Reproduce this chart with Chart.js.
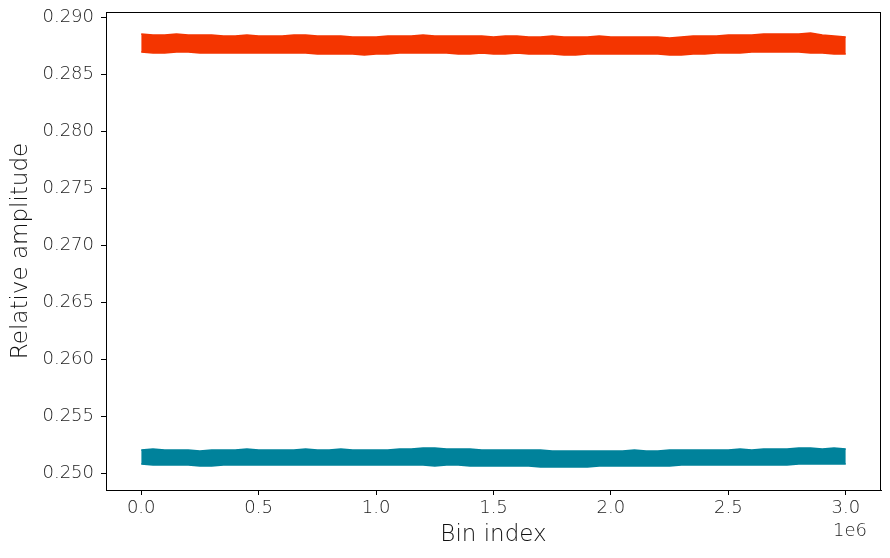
<!DOCTYPE html>
<html>
<head>
<meta charset="utf-8">
<script src="https://cdn.jsdelivr.net/npm/chart.js@4/dist/chart.umd.min.js"></script>
<style>
  html, body { margin: 0; padding: 0; background: #fff; }
  #wrap { width: 890px; height: 558px; }
</style>
</head>
<body>
<div id="wrap"><canvas id="chart" width="890" height="558"></canvas></div>
<script>
// bin index positions (read every 0.05e6)
const binIndex = [0, 50000, 100000, 150000, 200000, 250000, 300000, 350000, 400000, 450000,
  500000, 550000, 600000, 650000, 700000, 750000, 800000, 850000, 900000, 950000,
  1000000, 1050000, 1100000, 1150000, 1200000, 1250000, 1300000, 1350000, 1400000, 1450000,
  1500000, 1550000, 1600000, 1650000, 1700000, 1750000, 1800000, 1850000, 1900000, 1950000,
  2000000, 2050000, 2100000, 2150000, 2200000, 2250000, 2300000, 2350000, 2400000, 2450000,
  2500000, 2550000, 2600000, 2650000, 2700000, 2750000, 2800000, 2850000, 2900000, 2950000, 3000000];

// upper series (orange) : top and bottom edge of the noisy band
const upperTop = [0.28851, 0.28842, 0.28842, 0.28851, 0.28842, 0.28842, 0.28842, 0.28833, 0.28833, 0.28842,
  0.28833, 0.28833, 0.28833, 0.28842, 0.28842, 0.28833, 0.28833, 0.28833, 0.28825, 0.28825,
  0.28825, 0.28833, 0.28833, 0.28833, 0.28842, 0.28833, 0.28833, 0.28833, 0.28833, 0.28833,
  0.28825, 0.28833, 0.28833, 0.28825, 0.28825, 0.28833, 0.28825, 0.28825, 0.28825, 0.28833,
  0.28825, 0.28825, 0.28825, 0.28825, 0.28825, 0.28816, 0.28825, 0.28833, 0.28833, 0.28833,
  0.28842, 0.28842, 0.28842, 0.28851, 0.28851, 0.28851, 0.28851, 0.28860, 0.28842, 0.28833, 0.28825];
const upperBottom = [0.28693, 0.28684, 0.28684, 0.28693, 0.28693, 0.28684, 0.28684, 0.28684, 0.28684, 0.28684,
  0.28684, 0.28684, 0.28684, 0.28684, 0.28684, 0.28675, 0.28675, 0.28675, 0.28675, 0.28667,
  0.28675, 0.28675, 0.28684, 0.28684, 0.28684, 0.28684, 0.28684, 0.28675, 0.28675, 0.28684,
  0.28675, 0.28675, 0.28684, 0.28675, 0.28675, 0.28675, 0.28667, 0.28667, 0.28675, 0.28675,
  0.28675, 0.28675, 0.28675, 0.28675, 0.28675, 0.28667, 0.28667, 0.28675, 0.28675, 0.28684,
  0.28684, 0.28684, 0.28693, 0.28693, 0.28693, 0.28693, 0.28693, 0.28684, 0.28684, 0.28675, 0.28675];

// lower series (teal)
const lowerTop = [0.25202, 0.25211, 0.25202, 0.25202, 0.25202, 0.25193, 0.25202, 0.25202, 0.25202, 0.25211,
  0.25202, 0.25202, 0.25202, 0.25202, 0.25211, 0.25202, 0.25202, 0.25211, 0.25202, 0.25202,
  0.25202, 0.25202, 0.25211, 0.25211, 0.25219, 0.25219, 0.25211, 0.25211, 0.25211, 0.25202,
  0.25202, 0.25202, 0.25202, 0.25202, 0.25202, 0.25193, 0.25193, 0.25193, 0.25193, 0.25193,
  0.25193, 0.25193, 0.25202, 0.25193, 0.25193, 0.25202, 0.25202, 0.25202, 0.25202, 0.25202,
  0.25202, 0.25211, 0.25202, 0.25211, 0.25211, 0.25211, 0.25219, 0.25219, 0.25211, 0.25219, 0.25211];
const lowerBottom = [0.25079, 0.25070, 0.25070, 0.25070, 0.25070, 0.25061, 0.25061, 0.25070, 0.25070, 0.25070,
  0.25070, 0.25070, 0.25070, 0.25070, 0.25070, 0.25070, 0.25070, 0.25070, 0.25070, 0.25070,
  0.25070, 0.25070, 0.25070, 0.25070, 0.25070, 0.25061, 0.25070, 0.25070, 0.25061, 0.25061,
  0.25061, 0.25061, 0.25061, 0.25061, 0.25053, 0.25053, 0.25053, 0.25053, 0.25053, 0.25061,
  0.25061, 0.25061, 0.25061, 0.25061, 0.25061, 0.25061, 0.25070, 0.25070, 0.25070, 0.25070,
  0.25070, 0.25070, 0.25070, 0.25070, 0.25070, 0.25070, 0.25079, 0.25079, 0.25079, 0.25079, 0.25079];

const yTicks = [0.250, 0.255, 0.260, 0.265, 0.270, 0.275, 0.280, 0.285, 0.290];
const xTicks = [0, 500000, 1000000, 1500000, 2000000, 2500000, 3000000];

const ORANGE = '#f43500';
const TEAL = '#00829b';
const FONT = '"DejaVu Sans", sans-serif';

function pts(arr) {
  return binIndex.map((x, i) => ({ x: x, y: arr[i] }));
}

function band(data, color, fill) {
  return {
    data: pts(data),
    borderColor: color,
    backgroundColor: color,
    borderWidth: 1.5,
    pointRadius: 0,
    tension: 0,
    fill: fill
  };
}

// cadre + "1e6"
const frame = {
  id: 'frame',
  afterDraw(chart) {
    const { ctx, chartArea: a } = chart;
    ctx.save();
    ctx.strokeStyle = '#000';
    ctx.lineWidth = 1;
    ctx.strokeRect(a.left + 0.5, a.top + 0.5, a.right - a.left - 1, a.bottom - a.top);
    ctx.fillStyle = '#222';
    ctx.font = '200 18px ' + FONT;
    ctx.textAlign = 'right';
    ctx.textBaseline = 'middle';
    ctx.fillText('1e6', a.right - 14, 531);
    ctx.restore();
  }
};

new Chart(document.getElementById('chart'), {
  type: 'line',
  data: {
    datasets: [
      band(upperTop, ORANGE, false),
      band(upperBottom, ORANGE, '-1'),
      band(lowerTop, TEAL, false),
      band(lowerBottom, TEAL, '-1')
    ]
  },
  options: {
    responsive: false,
    animation: false,
    events: [],
    layout: { padding: { top: 12, right: 9, left: 0, bottom: 0 } },
    plugins: { legend: { display: false }, tooltip: { enabled: false } },
    scales: {
      x: {
        type: 'linear',
        min: -150000,
        max: 3150000,
        afterFit(s) { s.height = 68; s.paddingLeft = 0; s.paddingRight = 0; },
        afterBuildTicks(s) { s.ticks = xTicks.map(v => ({ value: v })); },
        grid: { drawOnChartArea: false, drawTicks: true, tickLength: 5, color: '#000' },
        border: { color: '#000' },
        ticks: {
          color: '#222',
          font: { family: FONT, size: 18, weight: 200 },
          padding: 3,
          maxRotation: 0,
          callback: v => (v / 1e6).toFixed(1)
        },
        title: {
          display: true,
          text: 'Bin index',
          color: '#111',
          font: { family: FONT, size: 23, weight: 200 },
          padding: { top: 0, bottom: 9 }
        }
      },
      y: {
        min: 0.24851,
        max: 0.29044,
        afterFit(s) { s.width = 106; s.paddingTop = 0; s.paddingBottom = 0; },
        afterBuildTicks(s) { s.ticks = yTicks.map(v => ({ value: v })); },
        grid: { drawOnChartArea: false, drawTicks: true, tickLength: 5, color: '#000' },
        border: { color: '#000' },
        ticks: {
          color: '#222',
          font: { family: FONT, size: 18, weight: 200 },
          padding: 7,
          callback: v => v.toFixed(3)
        },
        title: {
          display: true,
          text: 'Relative amplitude',
          color: '#111',
          font: { family: FONT, size: 23, weight: 200 },
          padding: { top: 7, bottom: 0 }
        }
      }
    }
  },
  plugins: [frame]
});
</script>
</body>
</html>
